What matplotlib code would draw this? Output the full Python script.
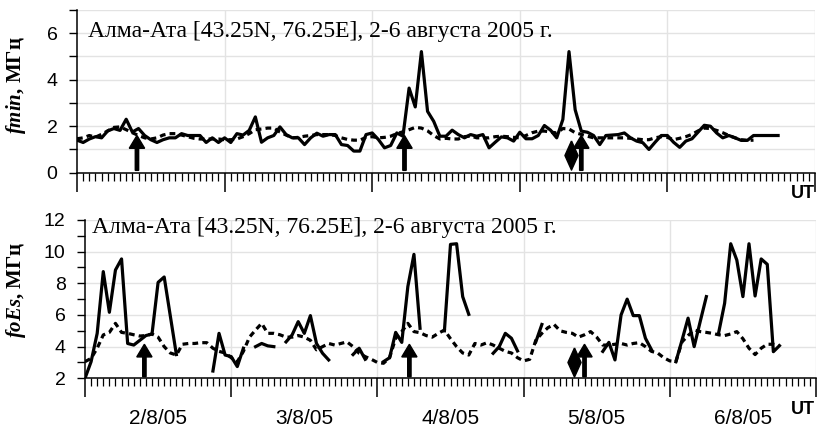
import numpy as np
import matplotlib
matplotlib.use("Agg")
import matplotlib.pyplot as plt
from matplotlib.ticker import MultipleLocator, NullFormatter
from matplotlib.transforms import blended_transform_factory

plt.rcParams['font.family'] = ['Liberation Sans', 'DejaVu Sans']
plt.rcParams['mathtext.fontset'] = 'custom'
plt.rcParams['mathtext.it'] = 'Liberation Serif:italic:bold'
plt.rcParams['mathtext.rm'] = 'Liberation Serif:bold'
plt.rcParams['mathtext.bf'] = 'Liberation Serif:bold'

nan = np.nan

# ---- данные: часы UT от 00 UT 2/8/05 ----
fmin_obs = [1.4, 1.3, 1.45, 1.55, 1.5, 1.8, 1.9, 1.82, 2.3, 1.75,
            1.9, 1.6, 1.42, 1.3, 1.42, 1.5, 1.5, 1.68, 1.6, 1.6,
            1.6, 1.3, 1.5, 1.3, 1.5, 1.3, 1.68, 1.62, 1.82, 2.4,
            1.31, 1.5, 1.6, 1.97, 1.64, 1.5, 1.5, 1.21, 1.5, 1.7,
            1.57, 1.64, 1.64, 1.21, 1.17, 0.93, 0.93, 1.64, 1.71, 1.43,
            1.07, 1.17, 1.71, 1.57, 3.64, 2.83, 5.21, 2.64, 2.21, 1.57,
            1.57, 1.83, 1.64, 1.5, 1.64, 1.57, 1.64, 1.07, 1.31, 1.54,
            1.5, 1.36, 1.74, 1.46, 1.46, 1.6, 2.03, 1.83, 1.5, 2.29,
            5.21, 2.71, 1.79, 1.74, 1.6, 1.21, 1.6, 1.62, 1.64, 1.71,
            1.5, 1.36, 1.29, 1.0, 1.31, 1.6, 1.6, 1.31, 1.09, 1.36,
            1.46, 1.75, 2.04, 2.0, 1.71, 1.5, 1.6, 1.5, 1.39, 1.39,
            1.6, 1.6, 1.6, 1.6, 1.6]

fmin_med = [1.46, 1.5, 1.6, 1.53, 1.65, 1.8, 1.95, 1.97, 1.85, 1.72,
            1.6, 1.5, 1.45, 1.5, 1.62, 1.68, 1.68, 1.62, 1.55, 1.48,
            1.45, 1.45, 1.45, 1.45, 1.42, 1.42, 1.45, 1.55, 1.68, 1.85,
            1.88, 1.92, 1.92, 1.75, 1.62, 1.5, 1.52, 1.57, 1.6, 1.64,
            1.64, 1.64, 1.6, 1.5, 1.43, 1.4, 1.4, 1.52, 1.55, 1.5,
            1.52, 1.57, 1.68, 1.76, 1.85, 1.95, 1.92, 1.8, 1.6, 1.45,
            1.48, 1.45, 1.45, 1.55, 1.58, 1.5, 1.5, 1.5, 1.55, 1.57,
            1.55, 1.52, 1.5, 1.6, 1.72, 1.79, 1.79, 1.75, 1.71, 1.9,
            1.88, 1.72, 1.65, 1.57, 1.5, 1.5, 1.5, 1.5, 1.5, 1.5,
            1.48, 1.45, 1.42, 1.42, 1.5, 1.55, 1.52, 1.42, 1.48, 1.55,
            1.65, 1.8, 1.92, 1.9, 1.82, 1.72, 1.6, 1.5, 1.42, 1.39,
            1.4]

foes_obs = [2.0, 3.05, 4.84, 8.74, 6.17, 8.84, 9.54, 4.2, 4.1, 4.4,
            4.7, 4.8, 8.06, 8.4, 5.95, 3.5, nan, nan, nan, nan,
            nan, 2.46, 4.84, 3.47, 3.37, 2.74, 3.9, nan, 4.0, 4.2,
            4.05, 4.0, nan, 4.3, 4.74, 5.58, 4.84, 5.96, 4.2, 3.58,
            3.16, nan, nan, nan, 3.5, 3.9, 3.2, nan, nan, 3.05,
            3.3, 4.9, 4.27, 7.8, 9.83, 5.16, nan, nan, nan, 5.0,
            10.46, 10.5, 7.16, 6.04, nan, nan, nan, 3.58, 4.0, 4.84,
            4.53, 3.73, nan, nan, 4.3, 5.4, nan, nan, nan, nan,
            nan, nan, nan, nan, nan, 3.7, 4.27, 3.16, 6.0, 7.0,
            5.96, 5.96, 4.53, 3.8, nan, nan, nan, 3.05, 4.4, 5.8,
            4.0, 5.6, 7.16, nan, 4.84, 6.74, 10.5, 9.47, 7.16, 10.5,
            7.2, 9.54, 9.2, 3.68, 4.06]

foes_med = [3.05, 3.26, 3.9, 4.74, 4.9, 5.47, 4.9, 4.84, 4.75, 4.67,
            4.7, 4.8, 4.6, 4.0, 3.6, 3.47, 4.15, 4.2, 4.2, 4.25,
            4.25, 3.9, 3.7, 3.6, 3.3, 3.05, 3.7, 4.6, 5.05, 5.47,
            4.84, 4.84, 4.75, 4.6, 4.6, 4.7, 4.6, 4.4, 3.8, 4.0,
            4.2, 4.1, 4.2, 4.3, 4.0, 3.58, 3.37, 3.2, 3.0, 2.95,
            3.3, 4.53, 4.95, 5.47, 4.95, 4.88, 4.7, 4.6, 4.84, 5.05,
            4.5, 4.0, 3.6, 3.47, 4.2, 4.1, 4.25, 4.1, 3.9, 3.7,
            3.6, 3.3, 3.1, 3.2, 4.4, 4.84, 5.2, 5.4, 5.0, 4.9,
            4.84, 4.6, 4.75, 4.95, 4.6, 4.1, 4.1, 4.15, 4.2, 4.1,
            4.2, 4.25, 4.0, 3.7, 3.6, 3.3, 3.1, 3.05, 4.3, 4.7,
            5.05, 4.95, 4.9, 4.84, 4.75, 4.7, 4.8, 4.95, 4.5, 3.9,
            3.5, 3.9, 4.15, 4.15, 4.06]

arrow_hours = [9.75, 53.25, 82.0]
diamond_hours = [80.25]
day_labels = ['2/8/05', '3/8/05', '4/8/05', '5/8/05', '6/8/05']
title = 'Алма-Ата [43.25N, 76.25E], 2-6 августа 2005 г.'

W, H = 817, 430
fig = plt.figure(figsize=(W / 100, H / 100), dpi=100)
ax1 = fig.add_axes([77 / W, 1 - 172.7 / H, 738 / W, 162.7 / H])
ax2 = fig.add_axes([85 / W, 1 - 378.3 / H, 731 / W, 158.3 / H])

GRID = '#e3e3e3'
LW = 2.3
DASH = (0, (1.8, 1.3))
DIAMOND = [(0, 1), (0.45, 0), (0, -1), (-0.45, 0), (0, 1)]


def style(ax, ymin, ymax, ystep):
    ax.set_xlim(0, 120)
    ax.set_ylim(ymin, ymax)
    for s in ['top', 'right']:
        ax.spines[s].set_visible(False)
    for s in ['left', 'bottom']:
        ax.spines[s].set_linewidth(1.1)
    ax.xaxis.set_major_locator(MultipleLocator(24))
    ax.xaxis.set_minor_locator(MultipleLocator(1))
    ax.xaxis.set_major_formatter(NullFormatter())
    ax.yaxis.set_major_locator(MultipleLocator(2))
    ax.yaxis.set_minor_locator(MultipleLocator(1))
    ax.tick_params(axis='x', which='major', length=14, width=1.1)
    ax.tick_params(axis='x', which='minor', length=6, width=0.9)
    ax.tick_params(axis='y', which='both', length=6, width=1.0, labelsize=14, pad=8)
    for v in np.arange(ymin + ystep, ymax + 0.01, ystep):
        ax.axhline(v, color=GRID, lw=1.0, zorder=0)
    for d in range(1, 6):
        ax.axvline(24 * d, color=GRID, lw=1.0, zorder=0)


hours1 = np.arange(len(fmin_obs))
ax1.plot(np.arange(len(fmin_med)), fmin_med, color='black', lw=LW, ls=DASH, zorder=2)
ax1.plot(hours1, fmin_obs, color='black', lw=LW, zorder=3)
style(ax1, 0, 7, 1)

hours2 = np.arange(len(foes_obs))
ax2.plot(np.arange(len(foes_med)), np.array(foes_med), color='black', lw=LW, ls=DASH, zorder=2)
ax2.plot(hours2, np.array(foes_obs, dtype=float), color='black', lw=LW, zorder=3)
style(ax2, 2, 12, 2)

# события: стрелки и ромбы
for ax, base, tip, hl, dy in [(ax1, 0.1, 1.6, 0.55, 0.76), (ax2, 2.1, 4.15, 0.8, 3.05)]:
    for t in arrow_hours:
        ax.arrow(t, base, 0, tip - base, width=0.55, head_width=2.5,
                 head_length=hl, length_includes_head=True,
                 fc='black', ec='black', zorder=5)
    ax.plot(diamond_hours, [dy] * len(diamond_hours), marker=DIAMOND, ms=21,
            color='black', ls='none', zorder=5)

ax1.set_ylabel(r'$fmin$, МГц', fontsize=15, family='Liberation Serif',
               fontweight='bold')
ax2.set_ylabel(r'$foEs$, МГц', fontsize=15, family='Liberation Serif',
               fontweight='bold')
ax1.yaxis.set_label_coords(-49 / 738, 0.54)
ax2.yaxis.set_label_coords(-57 / 731, 0.56)

fig.text(88 / W, 1 - 37 / H, title, family='Liberation Serif', fontsize=17,
         va='baseline', ha='left')
fig.text(92 / W, 1 - 233 / H, title, family='Liberation Serif', fontsize=17,
         va='baseline', ha='left')

tr = blended_transform_factory(ax2.transData, fig.transFigure)
for i, lab in enumerate(day_labels):
    ax2.text(24 * i + 12, 1 - 418 / H, lab, transform=tr, ha='center',
             va='center', fontsize=15)

fig.text(815 / W, 1 - 193 / H, 'UT', fontsize=13, fontweight='bold',
         ha='right', va='center')
fig.text(815 / W, 1 - 410 / H, 'UT', fontsize=13, fontweight='bold',
         ha='right', va='center')

fig.savefig('out.png', dpi=100)
